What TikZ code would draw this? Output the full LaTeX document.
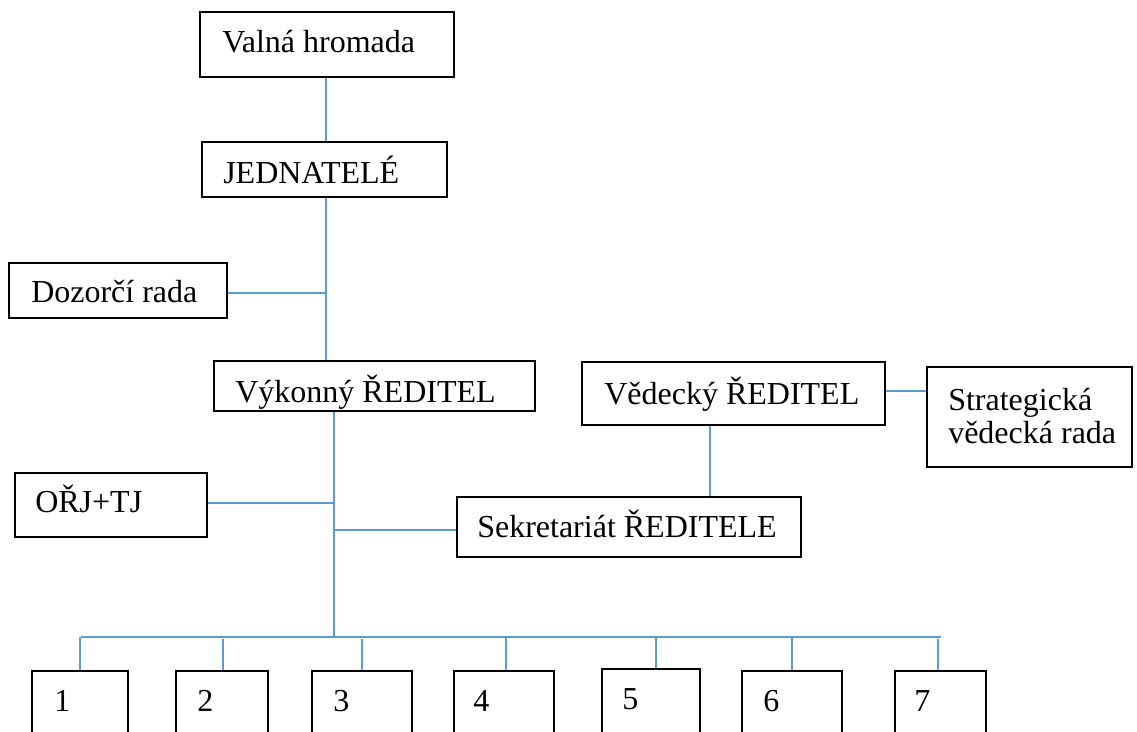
\documentclass[tikz,border=0pt]{standalone}
\usepackage{fontspec}
\setmainfont{Liberation Serif}
\usetikzlibrary{fit}
\definecolor{conn}{RGB}{91,155,213}
\tikzset{
  box/.style={draw=black, line width=0.8pt, inner sep=0pt, rectangle},
  lbl/.style={anchor=base west, inner sep=0pt, font=\fontsize{24}{28}\selectfont},
  wire/.style={draw=conn, line width=0.8pt}
}
\begin{document}
\begin{tikzpicture}[x=0.75pt,y=-0.75pt]
\useasboundingbox (0,0) rectangle (1137,731);
\clip (0,0) rectangle (1137,731);
% boxes
\node[box, fit={(200,12) (454,77)}] (vh) {};
\node[box, fit={(202,142) (447,197)}] (jd) {};
\node[box, fit={(9,263) (227,318)}] (dr) {};
\node[box, fit={(214,361) (535,411)}] (vy) {};
\node[box, fit={(582,362) (885,425)}] (vd) {};
\node[box, fit={(927,367) (1132,467)}] (st) {};
\node[box, fit={(15,473) (207,537)}] (oj) {};
\node[box, fit={(457,497) (801,557)}] (sk) {};
\node[box, fit={(32,671) (128,760)}] (b1) {};
\node[box, fit={(176,671) (268,760)}] (b2) {};
\node[box, fit={(312,671) (412,760)}] (b3) {};
\node[box, fit={(454,671) (554,760)}] (b4) {};
\node[box, fit={(602,669) (700,760)}] (b5) {};
\node[box, fit={(742,671) (842,760)}] (b6) {};
\node[box, fit={(895,671) (986,760)}] (b7) {};
% texts
\node[lbl] (tvh) at (222,53) {Valná hromada};
\node[lbl] (tjd) at (223,183) {JEDNATELÉ};
\node[lbl] (tdr) at (31,302) {Dozorčí rada};
\node[lbl] (tvy) at (235,402) {Výkonný ŘEDITEL};
\node[lbl] (tvd) at (604,404) {Vědecký ŘEDITEL};
\node[lbl] (tst1) at (948,410) {Strategická};
\node[lbl] (tst2) at (948,443) {vědecká rada};
\node[lbl] (toj) at (35,512) {OŘJ+TJ};
\node[lbl] (tsk) at (477,537) {Sekretariát ŘEDITELE};
\node[lbl] (t1) at (54,711) {1};
\node[lbl] (t2) at (197,711) {2};
\node[lbl] (t3) at (333,711) {3};
\node[lbl] (t4) at (473,711) {4};
\node[lbl] (t5) at (622,709) {5};
\node[lbl] (t6) at (763,711) {6};
\node[lbl] (t7) at (914,711) {7};
% connector coordinates
\coordinate (sp1) at (326,0);
\coordinate (jdr) at (326,293);
\coordinate (sp2) at (334,0);
\coordinate (joj) at (334,503);
\coordinate (jsk) at (334,530);
\coordinate (bus) at (334,637);
\coordinate (busL) at (81,637);
\coordinate (busR) at (941,637);
\coordinate (vdx) at (710,0);
\coordinate (vsy) at (0,391);
% connectors
\draw[wire] (vh.south -| sp1) -- (jd.north -| sp1);
\draw[wire] (jd.south -| sp1) -- (vy.north -| sp1);
\draw[wire] (dr.east |- jdr) -- (jdr);
\draw[wire] (vy.south -| sp2) -- (bus);
\draw[wire] (oj.east |- joj) -- (joj);
\draw[wire] (jsk) -- (sk.west |- jsk);
\draw[wire] (vd.south -| vdx) -- (sk.north -| vdx);
\draw[wire] (vd.east |- vsy) -- (st.west |- vsy);
\draw[wire] (busL) -- (busR);
\draw[wire] (80,637) -- (b1.north -| 80,0);
\draw[wire] (223,639) -- (b2.north -| 223,0);
\draw[wire] (362,639) -- (b3.north -| 362,0);
\draw[wire] (506,637) -- (b4.north -| 506,0);
\draw[wire] (656,637) -- (b5.north -| 656,0);
\draw[wire] (792,637) -- (b6.north -| 792,0);
\draw[wire] (938,639) -- (b7.north -| 938,0);
\end{tikzpicture}
\end{document}
